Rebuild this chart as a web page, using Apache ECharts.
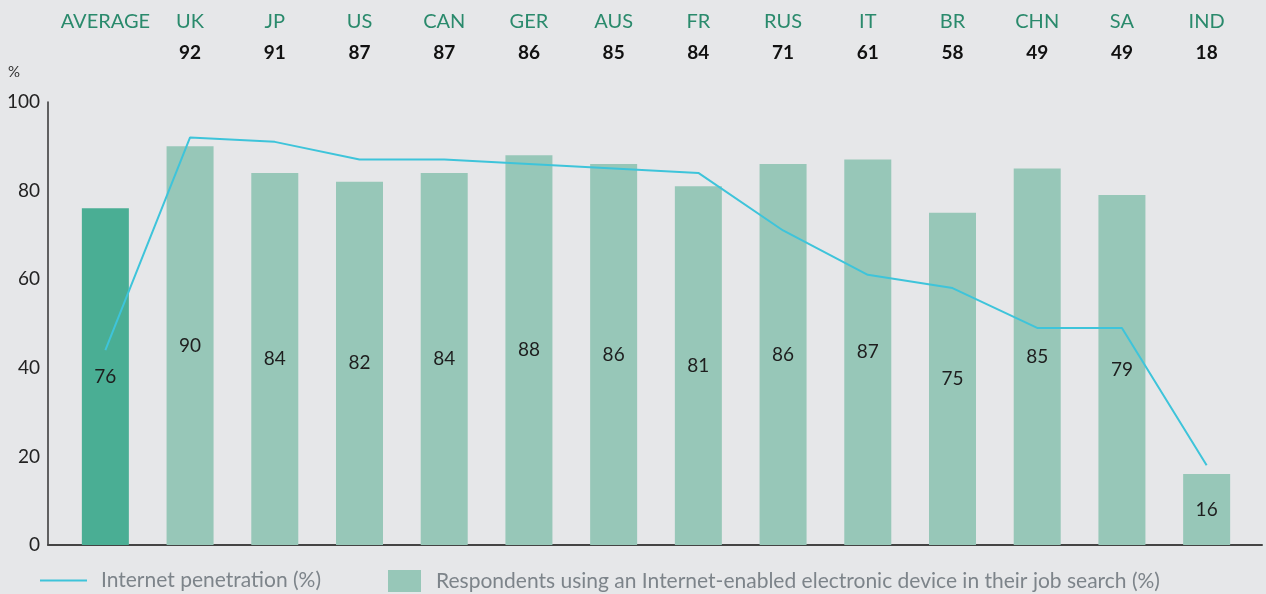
<!DOCTYPE html>
<html>
<head>
<meta charset="utf-8">
<script src="https://cdn.jsdelivr.net/npm/echarts@6/dist/echarts.min.js"></script>
<style>
  html, body { margin: 0; padding: 0; background: #e6e7e9; }
  #chart { width: 1266px; height: 594px; }
</style>
</head>
<body>
<div id="chart"></div>
<script>
  // categories and values
  const countries = ['AVERAGE', 'UK', 'JP', 'US', 'CAN', 'GER', 'AUS', 'FR', 'RUS', 'IT', 'BR', 'CHN', 'SA', 'IND'];
  const penetration = [44, 92, 91, 87, 87, 86, 85, 84, 71, 61, 58, 49, 49, 18];
  const respondents = [76, 90, 84, 82, 84, 88, 86, 81, 86, 87, 75, 85, 79, 16];
  const yTicks = [0, 20, 40, 60, 80, 100];

  const font = 'Lato';
  let chart = echarts.init(document.getElementById('chart'));

  // bar for the average is darker
  let barData = respondents.map((v, i) => i === 0 ? { value: v, itemStyle: { color: '#4aae94' } } : v);

  let option = {
    backgroundColor: '#e6e7e9',
    textStyle: { fontFamily: font },
    grid: [
      { left: 63, right: 17, top: 102, bottom: 49 },
      { left: 48, right: 4, top: 102, bottom: 49 }
    ],
    legend: [
      {
        left: 35, top: 565,
        itemWidth: 47, itemHeight: 22, itemGap: 10,
        data: [{ name: 'Internet penetration (%)', icon: 'path://M0,10 L47,10 L47,12 L0,12 Z' }],
        textStyle: { color: '#7d848a', fontSize: 21, fontFamily: font, padding: [0, 0, 0, 9] }
      },
      {
        left: 383, top: 565,
        itemWidth: 33, itemHeight: 22,
        data: [{ name: 'Respondents using an Internet-enabled electronic device in their job search (%)', icon: 'rect' }],
        textStyle: { color: '#7d848a', fontSize: 21, fontFamily: font, padding: [0, 0, 0, 10] }
      }
    ],
    xAxis: [
      {
        type: 'category', gridIndex: 0, data: countries,
        axisLine: { show: false }, axisTick: { show: false }, axisLabel: { show: false }
      },
      {
        type: 'category', gridIndex: 0, position: 'top', data: countries,
        axisLine: { show: false }, axisTick: { show: false },
        axisLabel: {
          margin: 34,
          interval: 0,
          formatter: (name, i) => '{n|' + name + '}\n{v|' + (i === 0 ? ' ' : penetration[i]) + '}',
          rich: {
            n: { color: '#2a8a6c', fontSize: 20, lineHeight: 31, fontFamily: font },
            v: { color: '#111', fontSize: 19, fontWeight: 'bold', lineHeight: 31, fontFamily: font }
          }
        }
      },
      {
        type: 'value', gridIndex: 1, min: 0, max: 1,
        axisLine: { show: true, onZero: false, lineStyle: { color: '#444', width: 2 } },
        axisTick: { show: false }, axisLabel: { show: false }, splitLine: { show: false }
      }
    ],
    yAxis: [
      {
        type: 'value', gridIndex: 0, min: 0, max: 100, interval: 20,
        show: false, splitLine: { show: false }
      },
      {
        type: 'value', gridIndex: 1, min: yTicks[0], max: yTicks[yTicks.length - 1], interval: 20,
        name: '%', nameLocation: 'end', nameGap: 22,
        nameTextStyle: { color: '#333', fontSize: 15, align: 'right', padding: [0, 28, 0, 0] },
        axisLine: { show: true, lineStyle: { color: '#333', width: 1.5 } },
        axisTick: { show: false },
        axisLabel: { color: '#222', fontSize: 19, margin: 8 },
        splitLine: { show: false }
      }
    ],
    series: [
      {
        name: 'Respondents using an Internet-enabled electronic device in their job search (%)',
        type: 'bar', xAxisIndex: 0, yAxisIndex: 0,
        barWidth: 47,
        itemStyle: { color: '#97c7b8' },
        label: { show: true, position: 'inside', color: '#1e1e1e', fontSize: 19, fontFamily: font },
        data: barData
      },
      {
        name: 'Internet penetration (%)',
        type: 'line', xAxisIndex: 0, yAxisIndex: 0,
        symbol: 'none',
        lineStyle: { color: '#3ec4da', width: 2 },
        itemStyle: { color: '#3ec4da' },
        data: penetration
      }
    ]
  };
  chart.setOption(option);
</script>
</body>
</html>
